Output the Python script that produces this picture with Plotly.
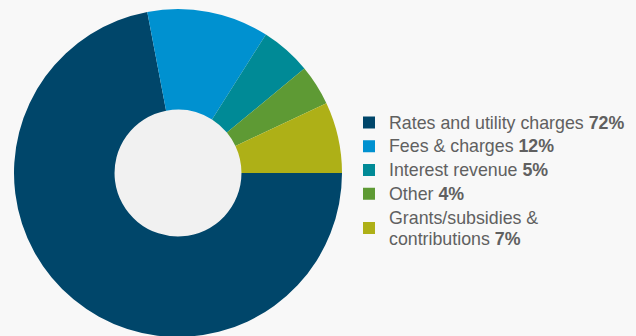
import plotly.graph_objects as go

# Revenue sources, drawn clockwise from 3 o'clock
labels = ["Rates and utility charges", "Fees & charges", "Interest revenue",
          "Other", "Grants/subsidies &<br>contributions"]
values = [72, 12, 5, 4, 7]
colors = ["#00466a", "#0091d0", "#008a96", "#5e9a34", "#aeb017"]

legend_text = [f'<span style="font-size:17.8px">{lab} <b>{v}%</b></span>'
               for lab, v in zip(labels, values)]

W, H = 636, 346
cx, cy = 178, H - 173          # donut centre in pixels (from left / bottom)
fig = go.Figure(go.Pie(
    labels=legend_text,
    values=values,
    marker=dict(colors=colors, line=dict(width=0)),
    hole=0.387,
    sort=False,
    direction="clockwise",
    rotation=90,
    textinfo="none",
    hoverinfo="label",
    domain=dict(x=[14 / W, 342 / W], y=[0, 1]),
))

# slightly darker fill showing through the donut hole
r = 68
fig.add_shape(type="circle", xref="paper", yref="paper", layer="below",
              x0=(cx - r) / W, x1=(cx + r) / W, y0=(cy - r) / H, y1=(cy + r) / H,
              fillcolor="#f1f1f1", line=dict(width=0))

fig.update_layout(
    width=W, height=H,
    margin=dict(l=0, r=0, t=0, b=0),
    paper_bgcolor="#f8f8f8",
    plot_bgcolor="#f8f8f8",
    font=dict(family="Liberation Sans, Arial, sans-serif", size=16, color="#606060"),
    legend=dict(
        x=349 / W, y=1 - 105.5 / H, xanchor="left", yanchor="top",
        bgcolor="rgba(0,0,0,0)",
        font=dict(size=16, color="#606060"),
    ),
    showlegend=True,
)

fig.write_html("out.html",
               post_script="document.documentElement.style.overflow='hidden';"
                           "document.body.style.overflow='hidden';")
